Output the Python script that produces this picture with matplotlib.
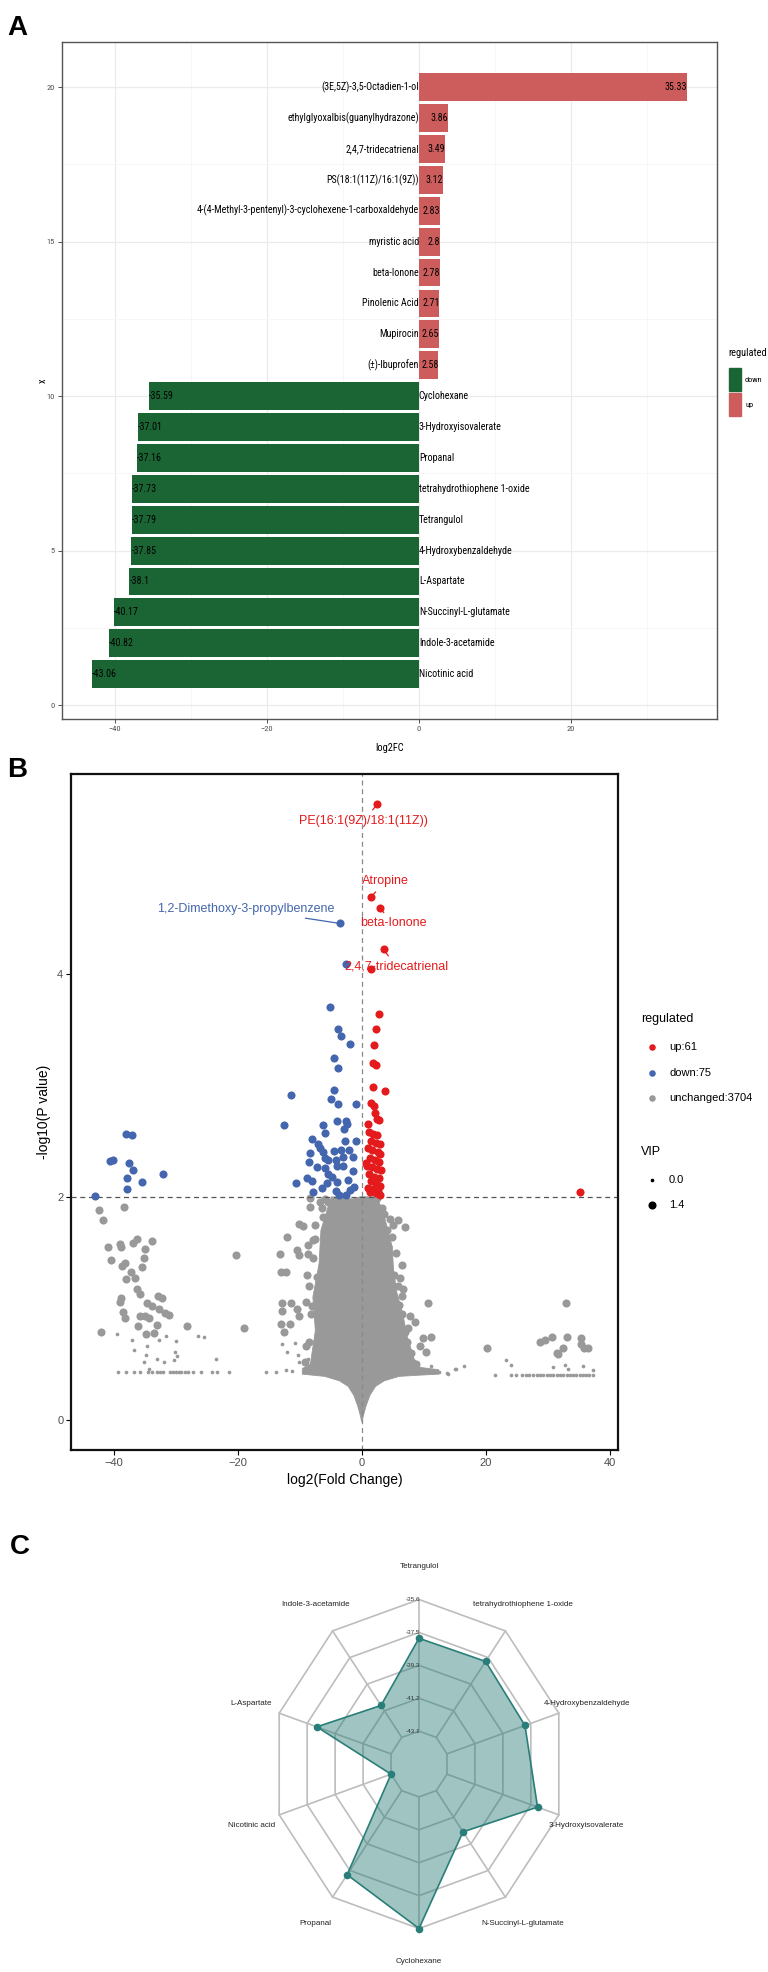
import matplotlib
matplotlib.use('Agg')
import matplotlib.pyplot as plt
import numpy as np
from matplotlib import font_manager as fm
from matplotlib.patches import Rectangle


def pick(fams):
    for f in fams:
        try:
            fm.findfont(fm.FontProperties(family=f), fallback_to_default=False)
            return f
        except Exception:
            pass
    return 'DejaVu Sans'


NARROW = pick(['Liberation Sans Narrow', 'Arial Narrow', 'Roboto Condensed'])
SANS = pick(['Liberation Sans', 'Arial', 'DejaVu Sans'])
IS_NARROW = NARROW != 'DejaVu Sans'
if not IS_NARROW:
    NARROW = SANS
NS = 1.0 if IS_NARROW else 0.82

# ---------------- data: panel A ----------------
compounds = ['Nicotinic acid', 'Indole-3-acetamide', 'N-Succinyl-L-glutamate', 'L-Aspartate',
             '4-Hydroxybenzaldehyde', 'Tetrangulol', 'tetrahydrothiophene 1-oxide', 'Propanal',
             '3-Hydroxyisovalerate', 'Cyclohexane',
             '(\u00b1)-Ibuprofen', 'Mupirocin', 'Pinolenic Acid', 'beta-Ionone', 'myristic acid',
             '4-(4-Methyl-3-pentenyl)-3-cyclohexene-1-carboxaldehyde', 'PS(18:1(11Z)/16:1(9Z))',
             '2,4,7-tridecatrienal', 'ethylglyoxalbis(guanylhydrazone)', '(3E,5Z)-3,5-Octadien-1-ol']
log2fc = [-43.06, -40.82, -40.17, -38.1, -37.85, -37.79, -37.73, -37.16, -37.01, -35.59,
          2.58, 2.65, 2.71, 2.78, 2.8, 2.83, 3.12, 3.49, 3.86, 35.33]
regulated = ['down'] * 10 + ['up'] * 10
bar_colors = {'down': '#1B6535', 'up': '#CD5C5C'}

# ---------------- data: panel B ----------------
up_x = [2.5, 1.52, 2.85, 3.5, 1.5, 2.8, 2.3, 1.98, 1.75, 2.3, 1.8, 3.8, 1.5, 1.98, 2.1, 2.4, 1.06, 2.7,
        1.1, 1.8, 2.5, 1.4, 2.2, 2.9, 1.0, 1.7, 2.6, 3.0, 1.3, 2.1, 2.8, 0.9, 1.6, 2.4, 3.1, 1.2, 2.0,
        2.7, 1.5, 2.3, 3.0, 1.0, 1.8, 2.6, 1.3, 2.2, 2.9, 0.7, 35.2]
up_y = [5.52, 4.69, 4.59, 4.22, 4.04, 3.64, 3.50, 3.36, 3.20, 3.18, 2.98, 2.95, 2.84, 2.81, 2.75, 2.70,
        2.65, 2.69, 2.58, 2.56, 2.55, 2.50, 2.48, 2.47, 2.44, 2.42, 2.40, 2.38, 2.35, 2.33, 2.31, 2.28,
        2.27, 2.25, 2.24, 2.20, 2.18, 2.17, 2.14, 2.12, 2.10, 2.08, 2.07, 2.05, 2.04, 2.03, 2.02, 2.30,
        2.04]
down_x = [-3.5, -2.6, -5.1, -3.9, -3.4, -1.9, -4.5, -3.9, -11.5, -4.5, -4.9, -3.9, -1.0, -12.5, -6.3,
          -4.0, -2.5, -2.9, -2.4, -5.9, -8.0, -0.95, -6.7, -8.4, -6.3, -4.5, -3.4, -2.0, -1.5, -5.5,
          -4.2, -8.6, -5.9, -4.0, -3.1, -1.4, -8.9, -8.1, -5.4, -5.7, -4.0, -2.2, -10.6, -7.8, -4.2,
          -1.9, -3.7, -2.6, -6.0, -7.2, -3.0, -6.5, -1.3, -4.8, -7.0, -2.8,
          -38.0, -37.1, -40.6, -40.1, -37.6, -36.9, -37.8, -35.5, -32.0, -37.8, -43.1]
down_y = [4.45, 4.09, 3.70, 3.50, 3.44, 3.37, 3.24, 3.15, 2.91, 2.96, 2.88, 2.83, 2.83, 2.64, 2.64,
          2.68, 2.68, 2.61, 2.65, 2.57, 2.52, 2.50, 2.44, 2.39, 2.40, 2.41, 2.42, 2.42, 2.36, 2.33,
          2.33, 2.31, 2.26, 2.28, 2.28, 2.23, 2.17, 2.14, 2.20, 2.12, 2.13, 2.15, 2.12, 2.04, 2.05,
          2.06, 2.02, 2.02, 2.35, 2.27, 2.36, 2.08, 2.09, 2.18, 2.47, 2.50,
          2.56, 2.55, 2.32, 2.33, 2.30, 2.24, 2.17, 2.13, 2.20, 2.07, 2.01]

# unchanged metabolites, high VIP (large dots)
nc_big_x = [-42.4, -41.7, -38.4, -41.0, -40.4, -39.0, -38.8, -36.9, -36.2, -33.8, -34.9, -35.2, -35.4,
            -38.6, -38.2, -37.3, -38.1, -36.6, -36.3, -35.8, -38.8, -39.0, -34.7, -33.9, -32.9, -32.3,
            -32.7, -31.8, -31.1, -38.5, -38.2, -35.8, -35.0, -34.3, -36.1, -33.0, -34.8, -33.5, -42.1,
            -28.2, -20.3, -19.0,
            -12.0, -13.2, -13.1, -12.3, -8.8, -7.2, -12.8, -11.5, -12.8, -10.4, -10.1, -13.1, -11.6,
            -12.6, -9.0, -9.5, -10.1, -10.4, -10.1, -8.7, -8.7, -8.3, -8.4, -7.9, -6.8, -6.0, -3.0,
            5.1, 5.9, 6.9, 4.8, 3.7, 4.2, 6.4, 6.1, 6.7, 6.4, 6.0, 10.7, 7.7, 8.5, 9.9, 11.1, 9.4,
            10.3, 6.9, 6.7, 3.6, 1.2, 20.2, 28.7, 29.5, 30.6, 31.5, 32.9, 33.1, 35.3, 35.4, 35.8, 36.5,
            32.4, 31.7,
            -8.5, -7.8, -7.5, -6.5, -8.2, -8.6, -7.0, -9.2, -5.5, -6.2, -8.0, -9.0, -7.6,
            5.5, 5.8, 6.5, 7.2, 8.0, 4.5, 3.2, 5.2, 7.5, 8.8, 4.0, 2.4]
nc_big_y = [1.88, 1.79, 1.91, 1.55, 1.43, 1.58, 1.55, 1.59, 1.62, 1.60, 1.53, 1.45, 1.37, 1.38, 1.41,
            1.33, 1.26, 1.27, 1.17, 1.13, 1.09, 1.06, 1.05, 1.02, 1.11, 1.09, 0.99, 0.96, 0.94, 0.97,
            0.91, 0.93, 0.93, 0.91, 0.84, 0.85, 0.77, 0.78, 0.79, 0.84, 1.48, 0.82,
            1.64, 1.49, 1.33, 1.33, 1.30, 1.28, 1.05, 1.05, 0.98, 0.99, 0.93, 0.86, 0.86, 0.79, 1.06,
            1.74, 1.76, 1.52, 1.48, 1.57, 1.49, 1.91, 1.99, 1.61, 1.95, 1.98, 1.97,
            1.75, 1.79, 1.73, 1.64, 1.63, 1.55, 1.39, 1.27, 1.17, 1.11, 1.03, 1.05, 0.93, 0.88, 0.73,
            0.74, 0.66, 0.61, 0.79, 0.57, 1.85, 1.97, 0.64, 0.70, 0.72, 0.74, 0.60, 1.05, 0.74, 0.73,
            0.68, 0.64, 0.64, 0.64, 0.59,
            1.20, 1.45, 1.75, 1.90, 0.95, 0.70, 0.60, 0.52, 1.95, 1.82, 1.02, 0.66, 1.62,
            1.50, 1.20, 0.95, 0.70, 0.60, 1.80, 1.90, 1.30, 0.82, 0.50, 1.70, 1.99]
# unchanged metabolites, low VIP (small dots)
nc_small_x = [-39.5, -37.0, -34.6, -36.8, -32.7, -31.6, -29.9, -30.2, -29.8, -34.8, -33.0, -31.9, -30.3,
              -23.5, -26.5, -25.5, -35.1, -34.3,
              -39.3, -38.0, -36.8, -35.8, -34.5, -33.9, -33.1, -32.5, -32.0, -31.0, -30.5, -29.9,
              -29.5, -29.1, -28.5, -28.0, -27.2, -26.0, -24.2, -23.4, -21.4, -15.5, -13.9, -12.3, -11.2,
              -12.9, -10.8, -12.1, -10.3, -10.1, -8.7,
              11.1, 12.5, 13.8, 15.2, 16.5, 13.9, 15.0, 21.5, 23.3, 24.0,
              24.1, 24.9, 25.8, 26.5, 27.0, 27.6, 28.2, 28.7, 29.2, 29.8, 30.3, 30.8, 31.4, 31.9, 32.5,
              33.0, 33.5, 34.1, 34.6, 35.2, 35.7, 36.2, 36.7, 37.3,
              30.8, 32.7, 35.7, 33.3, 37.3]
nc_small_y = [0.77, 0.72, 0.66, 0.63, 0.72, 0.75, 0.71, 0.61, 0.57, 0.58, 0.55, 0.52, 0.54, 0.55, 0.75,
              0.74, 0.52, 0.46,
              0.43, 0.43, 0.43, 0.43, 0.43, 0.43, 0.43, 0.43, 0.43, 0.43, 0.43, 0.43, 0.43, 0.43, 0.43,
              0.43, 0.43, 0.43, 0.43, 0.43, 0.43, 0.43, 0.43, 0.45, 0.44,
              0.68, 0.69, 0.61, 0.58, 0.52, 0.55,
              0.48, 0.43, 0.42, 0.46, 0.48, 0.41, 0.46, 0.40, 0.54, 0.49,
              0.40, 0.40, 0.40, 0.40, 0.40, 0.40, 0.40, 0.40, 0.40, 0.40, 0.40, 0.40, 0.40, 0.40, 0.40,
              0.40, 0.40, 0.40, 0.40, 0.40, 0.40, 0.40, 0.40, 0.40,
              0.47, 0.49, 0.48, 0.46, 0.45]
# outline of the dense, fully overlapping cloud of unchanged metabolites around log2FC = 0
core_x = [0.0, 0.3, 0.7, 1.3, 2.2, 3.6, 6.0, 9.0, 12.4, 12.4, 9.4, 8.4, 7.3, 6.6, 5.6, 5.1, 4.9, 4.2,
          3.5, 2.8, 2.1, 0.4, -0.3, -1.5, -4.9, -5.5, -6.6, -6.9, -7.9, -7.5, -8.3, -9.6, -9.6, -6.0,
          -3.6, -2.2, -1.3, -0.7, -0.3]
core_y = [-0.02, 0.05, 0.13, 0.22, 0.30, 0.35, 0.39, 0.40, 0.41, 0.45, 0.47, 0.55, 0.75, 0.95, 1.15,
          1.35, 1.55, 1.70, 1.85, 1.95, 2.00, 2.00, 2.00, 1.98, 2.00, 1.90, 1.70, 1.40, 1.10, 0.80,
          0.50, 0.46, 0.41, 0.39, 0.35, 0.30, 0.22, 0.13, 0.05]

annot_names = ['PE(16:1(9Z)/18:1(11Z))', 'Atropine', 'beta-Ionone', '2,4,7-tridecatrienal',
               '1,2-Dimethoxy-3-propylbenzene']
annot_x = [2.5, 1.52, 2.85, 3.5, -3.5]
annot_y = [5.52, 4.69, 4.59, 4.22, 4.45]
annot_tx = [0.3, 3.8, 5.1, 5.5, -4.5]
annot_ty = [5.37, 4.83, 4.45, 4.06, 4.58]
annot_reg = ['up', 'up', 'up', 'up', 'down']
n_up, n_down, n_unchanged = 61, 75, 3704

# ---------------- data: panel C ----------------
radar_names = ['Tetrangulol', 'tetrahydrothiophene 1-oxide', '4-Hydroxybenzaldehyde',
               '3-Hydroxyisovalerate', 'N-Succinyl-L-glutamate', 'Cyclohexane', 'Propanal',
               'Nicotinic acid', 'L-Aspartate', 'Indole-3-acetamide']
radar_values = [-37.79, -37.73, -37.85, -37.01, -40.17, -35.59, -37.16, -43.06, -38.1, -40.82]

RED = '#E41A1C'
BLUE = '#4466AE'
GREY = '#999999'
TEAL = '#2A7E79'

W, H = 768, 1972
fig = plt.figure(figsize=(W / 100, H / 100), dpi=100)


def box(l, t, r, b):
    return [l / W, 1 - b / H, (r - l) / W, (b - t) / H]


# ================= Panel A =================
axA = fig.add_axes(box(62, 42, 717, 719))
pos = np.arange(1, len(compounds) + 1)
axA.barh(pos, log2fc, height=0.9, color=[bar_colors[r] for r in regulated], zorder=3)
fsA = 7.2 * NS
for p, name, v in zip(pos, compounds, log2fc):
    lab = f'{v:g}'
    if v > 0:
        axA.text(0, p, name, ha='right', va='center', fontsize=fsA, family=NARROW, zorder=4)
        axA.text(v, p, lab, ha='right', va='center', fontsize=fsA, family=NARROW, zorder=4)
    else:
        axA.text(0, p, name, ha='left', va='center', fontsize=fsA, family=NARROW, zorder=4)
        axA.text(v, p, lab, ha='left', va='center', fontsize=fsA, family=NARROW, zorder=4)
axA.set_xlim(-46.98, 39.25)
axA.set_ylim(-0.45, 21.46)
axA.set_xticks([-40, -20, 0, 20])
axA.set_yticks([0, 5, 10, 15, 20])
axA.set_xticks([-30, -10, 10, 30], minor=True)
axA.set_yticks([2.5, 7.5, 12.5, 17.5], minor=True)
axA.grid(which='major', color='#EBEBEB', lw=0.9, zorder=0)
axA.grid(which='minor', color='#F4F4F4', lw=0.5, zorder=0)
axA.set_axisbelow(True)
axA.tick_params(which='minor', length=0)
axA.tick_params(which='major', length=3, width=0.6, color='#333333', labelsize=6 * NS,
                labelcolor='#4D4D4D', pad=2)
for lab in axA.get_xticklabels() + axA.get_yticklabels():
    lab.set_family(NARROW)
for s in axA.spines.values():
    s.set_color('#555555')
    s.set_linewidth(1.0)
axA.set_xlabel('log2FC', fontsize=7.5 * NS, family=NARROW)
axA.set_ylabel('x', fontsize=7.5 * NS, family=NARROW)
axA.xaxis.set_label_coords(0.5, -0.036)
axA.yaxis.set_label_coords(-0.022, 0.5)

# ================= Panel B =================
axB = fig.add_axes(box(71, 774, 618, 1450))
axB.fill(core_x, core_y, color=GREY, lw=0.6, ec=GREY, zorder=1)
axB.scatter(nc_small_x, nc_small_y, s=7, color=GREY, lw=0, zorder=2)
axB.scatter(nc_big_x, nc_big_y, s=34, color=GREY, lw=0, zorder=2)
axB.scatter(down_x, down_y, s=34, color=BLUE, lw=0, zorder=3)
axB.scatter(up_x, up_y, s=34, color=RED, lw=0, zorder=3)
axB.axhline(2, color='#555555', lw=0.9, ls=(0, (4, 3)), zorder=2.5)
axB.axvline(0, color='#888888', lw=0.9, ls=(0, (4, 3)), zorder=2.5)
for nm, x, y, tx, ty, rg in zip(annot_names, annot_x, annot_y, annot_tx, annot_ty, annot_reg):
    c = RED if rg == 'up' else BLUE
    ha = 'right' if rg == 'down' else 'center'
    axB.annotate(nm, xy=(x, y), xytext=(tx, ty), ha=ha, va='center', color=c, fontsize=9,
                 family=SANS, zorder=5,
                 arrowprops=dict(arrowstyle='-', color=c, lw=0.9, shrinkA=2, shrinkB=2))
axB.set_xlim(-46.9, 41.3)
axB.set_ylim(-0.27, 5.79)
axB.set_xticks([-40, -20, 0, 20, 40])
axB.set_yticks([0, 2, 4])
axB.tick_params(length=3.5, width=0.8, labelsize=8, labelcolor='#4D4D4D', pad=2)
for lab in axB.get_xticklabels() + axB.get_yticklabels():
    lab.set_family(SANS)
for s in axB.spines.values():
    s.set_linewidth(1.6)
    s.set_color('#111111')
axB.set_xlabel('log2(Fold Change)', fontsize=10, family=SANS)
axB.set_ylabel('-log10(P value)', fontsize=10, family=SANS)
axB.xaxis.set_label_coords(0.5, -0.034)
axB.yaxis.set_label_coords(-0.036, 0.5)

# ================= Panel C =================
axC = fig.add_axes(box(213.2, 1558.4, 624.8, 1969.65))
axC.set_xlim(-1.4, 1.4)
axC.set_ylim(-1.25, 1.25)
axC.axis('off')
n = len(radar_names)
ang = np.arange(n) * 2 * np.pi / n
vmin, vmax = min(radar_values), max(radar_values)
seg = 4
for k in range(1, seg + 2):
    r = k / (seg + 1)
    xs = np.append(r * np.sin(ang), r * np.sin(ang[0]))
    ys = np.append(r * np.cos(ang), r * np.cos(ang[0]))
    axC.plot(xs, ys, color='#BDBDBD', lw=1.2, zorder=1)
for a in ang:
    axC.plot([0.2 * np.sin(a), np.sin(a)], [0.2 * np.cos(a), np.cos(a)], color='#BDBDBD', lw=1.2,
             zorder=1)
rv = (1 + (np.array(radar_values) - vmin) / (vmax - vmin) * seg) / (seg + 1)
px = rv * np.sin(ang)
py = rv * np.cos(ang)
axC.fill(px, py, color=TEAL, alpha=0.45, lw=0, zorder=2)
axC.plot(np.append(px, px[0]), np.append(py, py[0]), color=TEAL, lw=1.2, zorder=3)
axC.scatter(px, py, s=30, color=TEAL, zorder=4, lw=0)
for k in range(seg + 1):
    val = vmin + k * (vmax - vmin) / seg
    axC.text(-0.04, (k + 1) / (seg + 1), f'{val:.1f}', ha='center', va='center', fontsize=4.6,
             family=SANS, color='#333333', zorder=5)
for nm, a in zip(radar_names, ang):
    axC.text(1.2 * np.sin(a), 1.2 * np.cos(a), nm, ha='center', va='center', fontsize=5.8,
             family=SANS, color='#222222', clip_on=False)

# ================= overlay: panel letters and legends =================
ov = fig.add_axes([0, 0, 1, 1])
ov.set_xlim(0, W)
ov.set_ylim(H, 0)
ov.axis('off')
for letter, (x, y) in zip('ABC', [(17, 28), (17, 770), (20, 1547)]):
    ov.text(x, y, letter, fontsize=20, fontweight='bold', family=SANS, ha='center', va='center')

# legend A
ov.text(728, 353, 'regulated', fontsize=7.5 * NS, family=NARROW, ha='left', va='center')
for i, (lab, key) in enumerate([('down', 'down'), ('up', 'up')]):
    y0 = 368 + i * 25
    ov.add_patch(Rectangle((729, y0), 12, 23, color=bar_colors[key]))
    ov.text(745, y0 + 12, lab, fontsize=6 * NS, family=NARROW, ha='left', va='center')

# legend B
ov.text(641, 1019, 'regulated', fontsize=9, family=SANS, ha='left', va='center')
for i, (lab, c) in enumerate([(f'up:{n_up}', RED), (f'down:{n_down}', BLUE),
                              (f'unchanged:{n_unchanged}', GREY)]):
    y0 = 1047 + i * 25.5
    ov.scatter([652], [y0], s=22, color=c, lw=0)
    ov.text(669, y0, lab, fontsize=8, family=SANS, ha='left', va='center')
ov.text(641, 1152, 'VIP', fontsize=9, family=SANS, ha='left', va='center')
for i, (lab, s) in enumerate([('0.0', 7), ('1.4', 34)]):
    y0 = 1180 + i * 25
    ov.scatter([652], [y0], s=s, color='black', lw=0)
    ov.text(669, y0, lab, fontsize=8, family=SANS, ha='left', va='center')

fig.savefig('out.png', dpi=100)
